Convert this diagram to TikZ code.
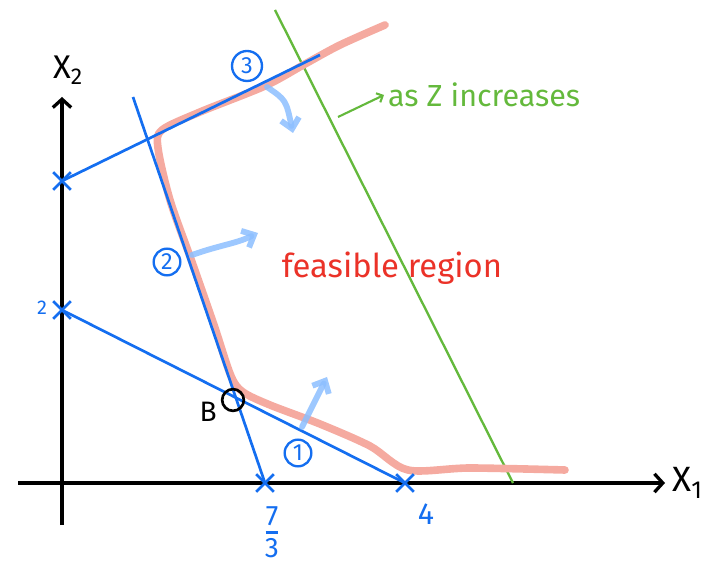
\documentclass[tikz,border=0pt]{standalone}
\usepackage{fontspec}
\setmainfont{Fira Sans}
\usetikzlibrary{arrows.meta,positioning,shapes.misc}

\definecolor{penblue}{RGB}{20,110,240}
\definecolor{pengreen}{RGB}{100,185,60}
\definecolor{penred}{RGB}{235,50,40}
\definecolor{penpink}{RGB}{245,170,160}
\definecolor{penlight}{RGB}{140,190,255}

\begin{document}
\begin{tikzpicture}[
  x=0.03cm, y=-0.03cm,
  axis/.style={line width=2.8pt, black},
  cons/.style={line width=2.3pt, penblue},
  xmark/.style={cross out, draw=penblue, line width=2.3pt, minimum size=4.5mm, inner sep=0pt},
  tag/.style={circle, draw=penblue, line width=2pt, text=penblue, inner sep=0pt,
              minimum size=8mm, font=\fontsize{20}{20}\selectfont},
  hint/.style={line width=5pt, penlight, opacity=0.85, line cap=round,
               -{Straight Barb[length=3mm, width=5.5mm]}},
  val/.style={text=penblue, inner sep=1pt},
]
\useasboundingbox (0,0) rectangle (720,569);

% ---- axes ---------------------------------------------------------------
\coordinate (xstart) at (18,483);
\coordinate (xend)   at (665,483);
\coordinate (ybot)   at (62,525);
\coordinate (ytop)   at (62,97);
\draw[axis, -{Straight Barb[length=2.5mm, width=5.5mm]}] (xstart) -- (xend);
\draw[axis, -{Straight Barb[length=2.5mm, width=5.5mm]}] (ybot) -- (ytop);
\node[right=1mm of xend, font=\fontsize{30}{30}\selectfont] (xlab) {X\textsubscript{1}};
\node[font=\fontsize{28}{28}\selectfont] (ylab) at (68,70) {X\textsubscript{2}};

% ---- objective line -----------------------------------------------------
\coordinate (g1) at (275,10);
\coordinate (g2) at (513,483);
\draw[line width=2pt, pengreen] (g1) -- (g2);
\coordinate (gtail) at (338,117);
\node[anchor=west, text=pengreen, font=\fontsize{26}{26}\selectfont] (zlab) at (384,95) {as Z increases};
\draw[line width=1.8pt, pengreen, -{Straight Barb[length=1.5mm, width=3mm]}] (gtail) -- (zlab.west);

% ---- feasible boundary --------------------------------------------------
\draw[line width=6.5pt, penpink, line cap=round] plot[smooth, tension=0.5] coordinates {
  (385,25) (340,45) (305,64) (265,86) (200,112) (162,130) (158,148) (170,200)
  (192,262) (214,325) (231,376) (243,392) (270,405) (320,424) (370,446)
  (408,470) (470,468) (565,470)};
\node[text=penred, font=\fontsize{28}{28}\selectfont] (feas) at (392,268) {feasible region};

% ---- constraints --------------------------------------------------------
\coordinate (a1) at (62,310);
\coordinate (b1) at (405,483);
\coordinate (a2) at (133,97);
\coordinate (b2) at (265,483);
\coordinate (a3) at (62,181);
\coordinate (b3) at (320,55);
\draw[cons] (a1) -- (b1);
\draw[cons] (a2) -- (b2);
\draw[cons] (a3) -- (b3);
\foreach \p in {a1,b1,b2,a3} \node[xmark] at (\p) {};

\node[val, font=\fontsize{17}{17}\selectfont] (lab2) at (42,308) {2};
\node[val, font=\fontsize{26}{26}\selectfont] (lab4) at (426,514) {4};
\node[val, font=\fontsize{24}{24}\selectfont, align=center] (lab73) at (272,532)
  {\shortstack{7\\[2pt]\rule{11pt}{2pt}\\[1pt]3}};

\node[tag] (t1) at (298,453) {1};
\node[tag] (t2) at (167,262) {2};
\node[tag, minimum size=9mm] (t3) at (247,66) {3};

% ---- directions ---------------------------------------------------------
\coordinate (h1s) at (302,427);
\coordinate (h1e) at (327,377);
\coordinate (h2s) at (192,255);
\coordinate (h2e) at (258,233);
\coordinate (h3s) at (267,87);
\coordinate (h3e) at (293,133);
\draw[hint] (h1s) -- (h1e);
\draw[hint] (h2s) .. controls (220,245) and (235,244) .. (h2e);
\draw[hint] (h3s) .. controls (286,100) .. (h3e);

% ---- vertex B -----------------------------------------------------------
\node[circle, draw, line width=2.3pt, minimum size=6.5mm, inner sep=0pt] (B) at (233,400) {};
\node[left=0pt of B, yshift=-3.5mm, font=\fontsize{24}{24}\selectfont] (Blab) {B};

\end{tikzpicture}
\end{document}
